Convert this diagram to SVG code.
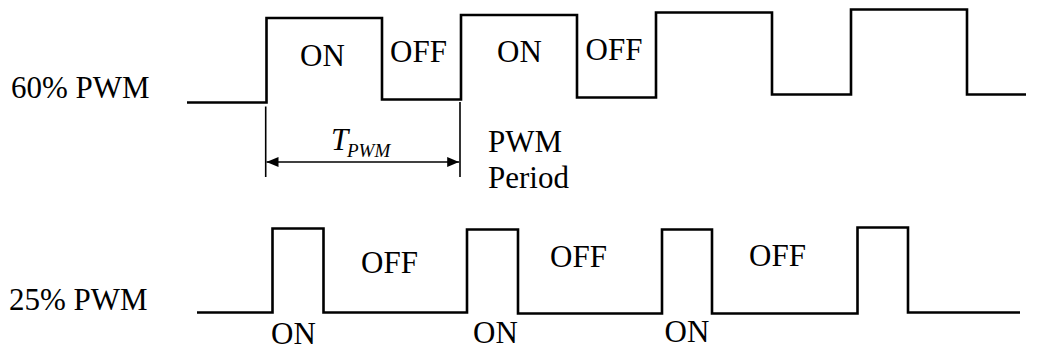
<svg xmlns="http://www.w3.org/2000/svg" width="1044" height="348" viewBox="0 0 1044 348">
<style>
  .wave { fill: none; stroke: #000; stroke-width: 2.6; stroke-linejoin: miter; stroke-linecap: butt; }
  .dim { fill: none; stroke: #000; stroke-width: 1.6; }
  .t { font-family: "Liberation Serif", "Times New Roman", serif; font-size: 31px; fill: #000; }
  .ti { font-family: "Liberation Serif", "Times New Roman", serif; font-style: italic; fill: #000; }
</style>
<defs>
  <marker id="arr" viewBox="0 0 12 10" refX="12" refY="5" markerWidth="12" markerHeight="10" markerUnits="userSpaceOnUse" orient="auto-start-reverse">
    <path d="M0,0 L12,5 L0,10 Z" fill="#000"/>
  </marker>
</defs>
<rect width="1044" height="348" fill="#fff"/>

<g id="pwm60">
  <path class="wave" d="M187,102.5 H266.5 V18 H382 V99.5 H461 V15 H577 V97.5 H656 V12.5 H772 V94.5 H851 V9.5 H967 V94.5 H1026"/>
  <text class="t" x="11" y="97.5">60% PWM</text>
  <text class="t" x="300" y="65.5">ON</text>
  <text class="t" x="390" y="62">OFF</text>
  <text class="t" x="497" y="61.5">ON</text>
  <text class="t" x="585.5" y="60">OFF</text>
</g>

<g id="pwm25">
  <path class="wave" d="M197,312.5 H272.5 V228.5 H323.5 V312.5 H467 V229.5 H518 V313.5 H662 V229.5 H712 V313.5 H857.5 V227.5 H908 V312.5 H1020"/>
  <text class="t" x="9" y="309.5">25% PWM</text>
  <text class="t" x="271" y="344">ON</text>
  <text class="t" x="361" y="272.5">OFF</text>
  <text class="t" x="473" y="342.5">ON</text>
  <text class="t" x="550" y="266.5">OFF</text>
  <text class="t" x="664.5" y="342">ON</text>
  <text class="t" x="749" y="266">OFF</text>
</g>

<g id="period-label">
  <text class="ti" x="331" y="150" font-size="31">T</text>
  <text class="ti" x="347" y="157.3" font-size="19">PWM</text>
  <text class="t" x="488" y="151.5">PWM</text>
  <text class="t" x="488" y="188.3">Period</text>
</g>

<g id="connectors">
  <line class="dim" x1="265.7" y1="106.5" x2="265.7" y2="177"/>
  <line class="dim" x1="460" y1="102" x2="460" y2="177"/>
  <line class="dim" x1="266.5" y1="162" x2="459.2" y2="162" marker-start="url(#arr)" marker-end="url(#arr)"/>
</g>
</svg>
